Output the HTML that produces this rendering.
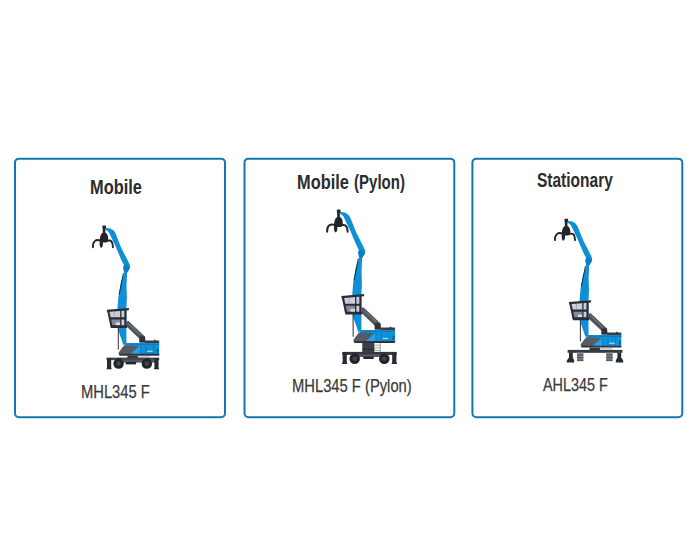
<!DOCTYPE html>
<html lang="en">
<head>
<meta charset="utf-8">
<title>Machine variants</title>
<style>
html,body{margin:0;padding:0;background:#fff;}
body{width:700px;height:560px;position:relative;overflow:hidden;font-family:"Liberation Sans",sans-serif;}
.defs{position:absolute;left:0;top:0;width:0;height:0;overflow:hidden;}
.card{position:absolute;top:158px;width:212px;height:260px;margin:0;padding:0;}
.frame{position:absolute;left:0;top:0;width:212px;height:260px;box-sizing:border-box;border:2px solid #1277b3;border-radius:5px;background:#fff;transform-origin:0 0;}
.t{position:absolute;margin:0;padding:0;white-space:nowrap;line-height:1;transform-origin:0 0;}
.title{font-weight:bold;color:#2c2c2c;font-size:19.5px;}
.sub{font-weight:normal;color:#3a3a3a;font-size:17.5px;-webkit-text-stroke:.25px #3a3a3a;}
.p2{display:inline-block;transform:scaleX(.915);transform-origin:0 0;margin-left:.4px;}
.art{position:absolute;left:0;top:0;width:212px;height:260px;overflow:visible;pointer-events:none;}
</style>
</head>
<body>
<svg class="defs" width="0" height="0" aria-hidden="true">
<defs>
<g id="upper">
  <!-- lower boom / stick behind cab -->
  <path fill="#0f90d6" d="M123.9 265.1 L123 267.8 L124.2 273 L123.6 275 L120.9 282.3 L118.3 297.7 L117.5 308 L117.7 328.4 L123.4 345 L126.4 344 L126.4 308 L126.9 297.7 L126.5 285.7 L127 274.6 L127 273 L129.9 268.6 L130 265.5 L128.9 262.8 L121.1 247.4 L115.4 233.1 L113.7 230.6 L110.3 228.4 L105.1 227.7 L105.1 229.2 L108.6 231.9 L111.1 237 L113.7 242.6 L115.4 246 L121.3 260 Z"/>
  <path fill="#0b6fa8" d="M123.6 266 L126.4 264.6 L129.6 267 L127.2 272.6 L124.4 272.6 Z" opacity=".55"/>
  <path fill="none" stroke="#17303f" stroke-width="1" d="M123.4 273.2 L119.2 294.6"/>
  <path fill="none" stroke="#2b2f38" stroke-width="1" d="M118.3 328.4 V349.6"/>
  <!-- grapple -->
  <g fill="none" stroke="#24242b" stroke-width="1.9" stroke-linecap="round">
    <path d="M100 240.5 C96 239 92.6 241.4 92.9 247.2"/>
    <path d="M107.6 240.8 C111.4 239.8 112.6 242 113 247.2"/>
  </g>
  <path fill="#24242b" d="M102.4 226.2 q0 -.6 .6 -.6 h2.4 q.6 0 .6 .6 v1.6 q0 .6 -.6 .7 l-.1 4.1 c2 .8 3 3.6 3 7.2 c0 2.1 -1.5 2.8 -4 2.8 h-1.5 c.5 2 -.3 5.2 -1.5 5.2 c-1.4 0 -2 -3.6 -1.5 -6.2 c-.3 -4 .9 -7.8 3 -8.8 l-.1 -4.3 q-.3 -.1 -.3 -.7 z"/>
  <!-- cab arm -->
  <path fill="#50545d" d="M126.5 321.3 L128.6 321 L144.6 336.3 L145.4 342.5 L139.5 342.5 L139.2 338.6 L126.5 326.5 Z"/>
  <path fill="none" stroke="#8a8f98" stroke-width=".8" d="M128.6 323.6 L140.8 335.2"/>
  <path fill="#2f323a" d="M139.4 336.4 H145 L145.4 342.5 H139.5 Z"/>
  <!-- cab -->
  <path fill="#c9ced8" d="M107.8 310.5 L126 309.5 L126 327 L111 327 Z"/>
  <path fill="#828b97" d="M110 319 H120.4 V326 H111.6 Z"/>
  <path fill="#d8dce4" d="M115.8 322.4 H120.2 V325.4 H115.8 Z"/>
  <path fill="none" stroke="#2a2c34" stroke-width="2.1" stroke-linejoin="round" d="M108.3 311.4 L111.5 326.4 M125.4 310 V326.6 M109.6 318.4 H126"/>
  <path fill="none" stroke="#2a2c34" stroke-width="1.3" d="M120.8 310 V326.6"/>
  <path fill="none" stroke="#8d93a0" stroke-width=".6" d="M114.4 311.6 V317.2"/>
  <path fill="#2a2c34" d="M106.8 309.8 L129.1 308 L128.8 310.2 L107.1 312 Z"/>
  <path fill="#2a2c34" d="M110.2 325.2 H127 V328 H110.9 Z"/>
  <!-- upper body -->
  <path fill="#0f92da" d="M126.3 343.2 H159.2 V355 H128 L124 346 Z"/>
  <path fill="#0c7cc0" d="M126.3 343.2 H159.2 V345.1 H125.2 Z"/>
  <path fill="#27a0e4" d="M130 354.2 L140.3 346.3 V354.2 Z"/>
  <path fill="none" stroke="#0c74b2" stroke-width=".7" d="M140.6 345.6 V354 M146 345.6 V354 M153.4 345.6 V354"/>
  <path fill="#565b64" d="M124 345.4 L138.4 346 L130 354.6 H119.6 L118.4 352.7 Z"/>
  <path fill="#2f333c" d="M118.6 353.8 H159.2 V355.7 H119.6 Z"/>
  <path fill="#3a3d46" d="M145 340.6 H153.5 L154.8 339.6 L156 340.6 H159.2 V343 H145 Z"/>
  <rect x="156.8" y="348.4" width="1.7" height="4.2" fill="#0b5a8e"/>
  <rect x="147" y="350.8" width="5.8" height="1.1" fill="#a5daf6"/>
</g>
<g id="wheel"><circle r="5.25" fill="#222328"/><circle r="2.3" fill="#44464f"/></g>
</defs>
</svg>

<section class="card" style="left:14px">
  <div class="frame" style="transform:translate(0,-.35px) scale(1,1.0025)"></div>
  <h3 class="t title" style="left:75.5px;top:19.8px;transform:scaleX(.84)">Mobile</h3>
  <svg class="art" viewBox="14 158 212 260" width="212" height="260">
  <rect x="127.4" y="355.6" width="10.4" height="2.4" fill="#33363e"/>
  <rect x="138" y="356.4" width="12" height="1.2" fill="#b9bdc4"/>
  <rect x="106.6" y="357.6" width="52.6" height="2.6" fill="#41454e"/>
  <rect x="122" y="359.8" width="33" height="2.8" fill="#545861"/>
  <rect x="125.7" y="361.8" width="10.4" height="2.6" fill="#24262c"/>
  <path fill="#292b33" d="M107 358 h4.2 v9.4 l.6 1.8 h-5.4 l.6 -1.8 z"/>
  <path fill="#292b33" d="M154.4 358 h4.2 v9.4 l.6 1.8 h-5.4 l.6 -1.8 z"/>
  <use href="#wheel" x="118.6" y="363.6"/>
  <use href="#wheel" x="146.85" y="363.6"/>
  <use href="#upper"/>
  </svg>
  <p class="t sub" style="left:66.5px;top:226.1px;transform:scaleX(.842)">MHL345 F</p>
</section>

<section class="card" style="left:243px">
  <div class="frame" style="transform:translate(.5px,-.35px) scale(.999,1.0025)"></div>
  <h3 class="t title" style="left:54.3px;top:14.8px;transform:scaleX(.84)">Mobile <span class="p2">(Pylon)</span></h3>
  <svg class="art" viewBox="243 158 212 260" width="212" height="260">
  <rect x="362.3" y="342.6" width="12.1" height="10" fill="#3b3e47"/>
  <path stroke="#23252b" stroke-width=".8" fill="none" d="M362.3 349.4 h12.1"/>
  <path stroke="#8d9199" stroke-width=".8" fill="none" d="M374.4 345.2 h6 M374.4 347.8 h6 M374.4 350.4 h6 M380.2 343 v9.4"/>
  <rect x="342.3" y="351.9" width="54.4" height="3" fill="#33363f"/>
  <rect x="358" y="354.6" width="30" height="2.4" fill="#545861"/>
  <rect x="363.3" y="356.6" width="10.4" height="2.4" fill="#24262c"/>
  <path fill="#292b33" d="M342.6 352.4 h4.2 v9.6 l.6 2 h-5.6 l.8 -2 z"/>
  <path fill="#292b33" d="M392.2 352.4 h4.2 v9.6 l.8 2 h-5.6 l.6 -2 z"/>
  <use href="#wheel" x="354.7" y="358.8"/>
  <use href="#wheel" x="384.3" y="358.8"/>
  <g transform="translate(231.87 -21.64) scale(1.025)"><use href="#upper"/></g>
  </svg>
  <p class="t sub" style="left:48.9px;top:220.1px;transform:scaleX(.843)">MHL345 F (Pylon)</p>
</section>

<section class="card" style="left:471px">
  <div class="frame" style="transform:translate(.4px,-.35px) scale(.9995,1.0025)"></div>
  <h3 class="t title" style="left:66.1px;top:12.5px;transform:scaleX(.795)">Stationary</h3>
  <svg class="art" viewBox="471 158 212 260" width="212" height="260">
  <rect x="589.5" y="347.6" width="10.6" height="2.6" fill="#33363e"/>
  <rect x="600.4" y="348.2" width="12" height="1.2" fill="#b9bdc4"/>
  <rect x="567.6" y="349.9" width="54.8" height="2.9" fill="#363942"/>
  <path fill="#292b33" d="M569 352.6 h3.8 v5 l1.4 3 v2 h-7.4 v-2 l2.2 -3 z"/>
  <path fill="#292b33" d="M617.4 352.6 h3.8 v5 l2 3 v2 h-7.4 v-2 l1.6 -3 z"/>
  <rect x="577" y="352.6" width="6.4" height="8.6" fill="#83878f"/>
  <rect x="606.2" y="352.6" width="6.4" height="8.6" fill="#83878f"/>
  <path stroke="#3a3d46" stroke-width=".9" fill="none" d="M577 355 h6.4 M577 357.6 h6.4 M577 360.2 h6.4 M606.2 355 h6.4 M606.2 357.6 h6.4 M606.2 360.2 h6.4"/>
  <g transform="translate(462.1 -4.59) scale(1 .99)"><use href="#upper"/></g>
  </svg>
  <p class="t sub" style="left:71.9px;top:219.1px;transform:scaleX(.823)">AHL345 F</p>
</section>
</body>
</html>
